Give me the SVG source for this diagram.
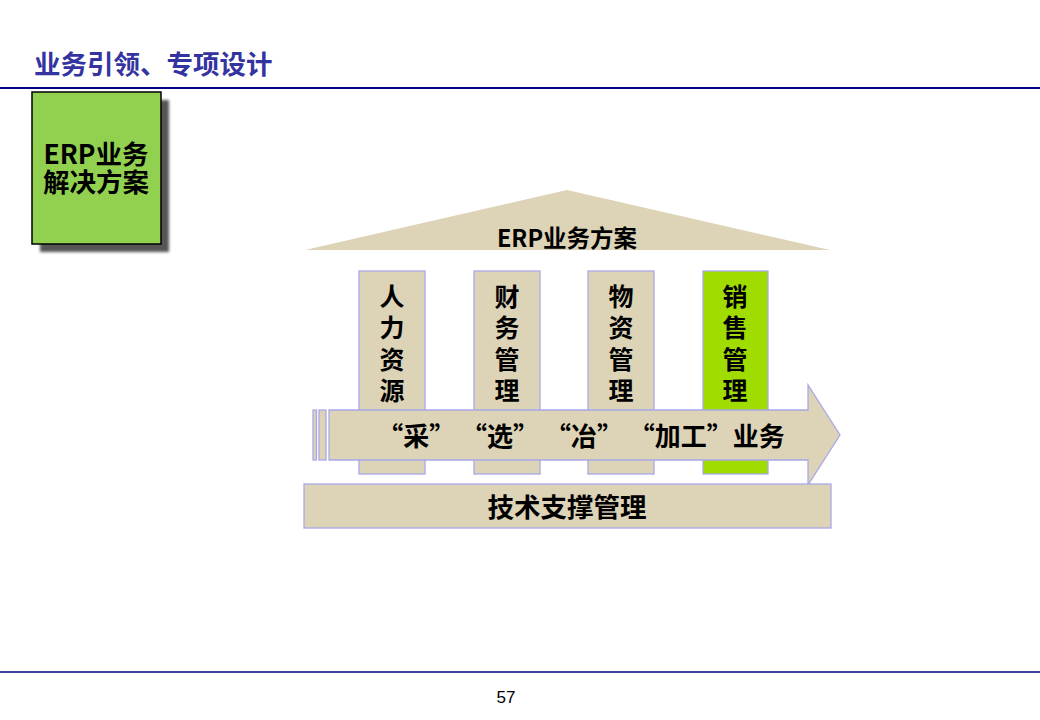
<svg xmlns="http://www.w3.org/2000/svg" width="1040" height="720" viewBox="0 0 1040 720">
<style>
.cjk{font-family:"Noto Sans CJK SC","Liberation Sans",sans-serif;font-weight:bold;fill:#000}
.beige{fill:#ddd3b7;stroke:#a8a8e8;stroke-width:1.3}
.col{font-size:25px;text-anchor:middle;dominant-baseline:central}
</style>
<defs>
<filter id="sh" x="-20%" y="-20%" width="150%" height="150%"><feGaussianBlur stdDeviation="1.5"/></filter>
</defs>
<rect width="1040" height="720" fill="#fff"/>
<g id="header">
<text x="34" y="74" class="cjk" style="fill:#3434a0;font-size:26.5px">业务引领、专项设计</text>
<line x1="0" y1="88" x2="1040" y2="88" stroke="#000080" stroke-width="2"/>
</g>
<g id="erp-box">
<rect x="40" y="100" width="129" height="152" fill="#555" filter="url(#sh)"/>
<rect x="32" y="92" width="129" height="152" fill="#92d050" stroke="#000" stroke-width="1.5"/>
<text class="cjk" style="font-size:26.5px" text-anchor="middle" dominant-baseline="central"><tspan x="96" y="152">ERP业务</tspan><tspan x="96" y="180">解决方案</tspan></text>
</g>
<g id="roof">
<polygon points="305,250 567,190 830,250" fill="#ddd3b7"/>
<text x="567" y="237" class="cjk" style="font-size:23.5px" text-anchor="middle" dominant-baseline="central">ERP业务方案</text>
</g>
<g id="pillar-hr">
<rect x="359" y="271" width="66" height="203" class="beige"/>
<text class="cjk col"><tspan x="392" y="295">人</tspan><tspan x="392" y="326">力</tspan><tspan x="392" y="358">资</tspan><tspan x="392" y="389">源</tspan></text>
</g>
<g id="pillar-fin">
<rect x="474" y="271" width="66" height="203" class="beige"/>
<text class="cjk col"><tspan x="507" y="295">财</tspan><tspan x="507" y="326">务</tspan><tspan x="507" y="358">管</tspan><tspan x="507" y="389">理</tspan></text>
</g>
<g id="pillar-mat">
<rect x="588" y="271" width="66" height="203" class="beige"/>
<text class="cjk col"><tspan x="621" y="295">物</tspan><tspan x="621" y="326">资</tspan><tspan x="621" y="358">管</tspan><tspan x="621" y="389">理</tspan></text>
</g>
<g id="pillar-sales">
<rect x="703" y="271" width="65" height="203" fill="#a0dc00" stroke="#a8a8e8" stroke-width="1.3"/>
<text class="cjk col"><tspan x="735" y="295">销</tspan><tspan x="735" y="326">售</tspan><tspan x="735" y="358">管</tspan><tspan x="735" y="389">理</tspan></text>
</g>
<g id="arrow">
<rect x="313" y="410" width="3.5" height="50" class="beige"/>
<rect x="319" y="410" width="7" height="50" class="beige"/>
<polygon points="329,410 808,410 808,385 840,435 808,485 808,460 329,460" class="beige"/>
<text x="581" y="434" class="cjk" style="font-size:26px" text-anchor="middle" dominant-baseline="central">“采”  “选”  “冶”  “加工”业务</text>
</g>
<g id="tech">
<rect x="304" y="484" width="527" height="44" class="beige"/>
<text x="567" y="505" class="cjk" style="font-size:26.5px" text-anchor="middle" dominant-baseline="central">技术支撑管理</text>
</g>
<g id="footer">
<line x1="0" y1="672" x2="1040" y2="672" stroke="#000080" stroke-width="1.5"/>
<text x="506" y="703" style="font-family:'Liberation Sans',Arial,sans-serif;font-size:17px" text-anchor="middle">57</text>
</g>
</svg>
